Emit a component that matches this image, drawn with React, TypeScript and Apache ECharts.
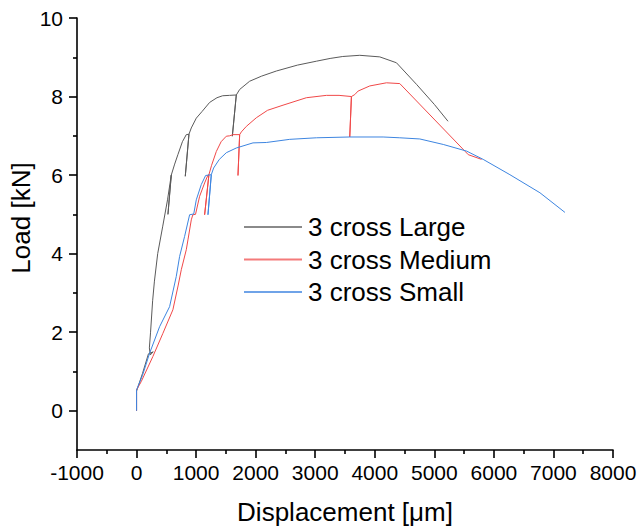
import React, { useEffect, useRef } from "react";
import * as echarts from "echarts";

const seriesNames = ["3 cross Large", "3 cross Medium", "3 cross Small"];
const seriesColors = ["#5a5a5a", "#f04848", "#3d85e0"];
const legendColors = ["#8a8a8a", "#f47a7a", "#6fa3e8"];

const largeX = [0, 0, 100, 200, 280, 230, 215, 235, 270, 300, 355, 440, 520, 583, 527, 583, 640, 694, 770, 835, 880, 818, 880, 919, 1003, 1100, 1227, 1350, 1445, 1560, 1675, 1608, 1675, 1731, 1899, 2100, 2347, 2700, 3020, 3250, 3462, 3748, 4084, 4364, 4701, 5000, 5230];
const largeY = [0, 0.5, 0.95, 1.45, 1.5, 1.42, 1.6, 2.0, 2.8, 3.3, 4.0, 4.7, 5.37, 6.0, 5.0, 6.0, 6.28, 6.52, 6.85, 7.03, 7.04, 5.97, 7.04, 7.2, 7.45, 7.62, 7.85, 7.97, 8.02, 8.03, 8.04, 6.99, 8.04, 8.18, 8.39, 8.52, 8.65, 8.8, 8.9, 8.97, 9.02, 9.05, 9.01, 8.86, 8.31, 7.8, 7.37];

const mediumX = [0, 0, 78, 274, 442, 610, 700, 751, 835, 863, 919, 945, 990, 1059, 1143, 1199, 1215, 1143, 1215, 1260, 1339, 1420, 1507, 1563, 1619, 1731, 1703, 1731, 1760, 1843, 2011, 2200, 2459, 2851, 3188, 3400, 3608, 3580, 3608, 3664, 3720, 3916, 4196, 4420, 5513, 5570, 5793];
const mediumY = [0, 0.53, 0.74, 1.38, 1.97, 2.57, 3.2, 3.59, 4.1, 4.35, 4.86, 4.99, 5.0, 5.46, 5.8, 6.0, 6.01, 4.99, 6.01, 6.25, 6.6, 6.85, 6.99, 7.0, 7.03, 7.03, 5.99, 7.03, 7.1, 7.24, 7.46, 7.65, 7.78, 7.97, 8.03, 8.03, 8.0, 6.97, 8.0, 8.05, 8.14, 8.27, 8.35, 8.33, 6.61, 6.52, 6.4];

const smallX = [0, 0, 100, 218, 387, 555, 667, 723, 807, 891, 960, 1003, 1087, 1160, 1255, 1199, 1255, 1294, 1390, 1507, 1675, 1955, 2179, 2571, 3020, 3580, 4140, 4420, 4756, 5150, 5543, 5820, 6269, 6773, 7193];
const smallY = [0, 0.53, 0.9, 1.46, 2.14, 2.65, 3.42, 3.93, 4.44, 4.99, 5.01, 5.37, 5.76, 5.99, 6.01, 4.99, 6.01, 6.18, 6.4, 6.57, 6.69, 6.82, 6.83, 6.91, 6.95, 6.97, 6.97, 6.95, 6.92, 6.78, 6.61, 6.4, 6.01, 5.55, 5.05];

const yMajorTicks = [0, 2, 4, 6, 8, 10];
const yMinorTicks = [1, 3, 5, 7, 9];

const FONT = "'Liberation Sans', Arial, sans-serif";

function pairs(xs: number[], ys: number[]) {
  return xs.map((x, i) => [x, ys[i]]);
}

export default function App() {
  const ref = useRef<HTMLDivElement>(null);
  useEffect(() => {
    if (!ref.current) return;
    const chart = echarts.init(ref.current, null, { renderer: "svg" });
    const allData = [pairs(largeX, largeY), pairs(mediumX, mediumY), pairs(smallX, smallY)];
    chart.setOption({
      animation: false,
      backgroundColor: "#ffffff",
      grid: { left: 77, right: 27, top: 18, bottom: 82, containLabel: false },
      legend: {
        orient: "vertical",
        left: 244,
        top: 214,
        padding: 0,
        itemWidth: 58,
        itemHeight: 2,
        itemGap: 6.5,
        icon: "rect",
        data: seriesNames.map((name, i) => ({ name, itemStyle: { color: legendColors[i] } })),
        textStyle: { fontSize: 26, fontFamily: FONT, color: "#000", padding: [0, 0, 0, 1] },
      },
      xAxis: {
        type: "value",
        min: -1000,
        max: 8000,
        interval: 1000,
        name: "Displacement [\u03bcm]",
        nameLocation: "middle",
        nameGap: 49,
        nameTextStyle: { fontSize: 26, fontFamily: FONT, color: "#000" },
        axisLine: { show: true, onZero: false, lineStyle: { color: "#000", width: 1.6 } },
        axisTick: { show: true, inside: false, length: 8, lineStyle: { color: "#000", width: 1.6 } },
        minorTick: { show: true, splitNumber: 2, length: 4, lineStyle: { color: "#000", width: 1.6 } },
        axisLabel: {
          fontSize: 21,
          fontFamily: FONT,
          color: "#000",
          margin: 12,
          formatter: (v: number) => String(v),
        },
        splitLine: { show: false },
        minorSplitLine: { show: false },
      },
      yAxis: [
        {
          type: "value",
          min: -1,
          max: 10,
          position: "left",
          axisLine: { show: true, onZero: false, lineStyle: { color: "#000", width: 1.6 } },
          axisTick: { show: true, inside: false, length: 8, customValues: yMajorTicks, lineStyle: { color: "#000", width: 1.6 } },
          axisLabel: { fontSize: 21, fontFamily: FONT, color: "#000", margin: 14, customValues: yMajorTicks, formatter: (v: number) => String(v) },
          splitLine: { show: false },
        },
        {
          type: "value",
          min: -1,
          max: 10,
          position: "left",
          axisLine: { show: false, onZero: false },
          axisTick: { show: true, inside: false, length: 4, customValues: yMinorTicks, lineStyle: { color: "#000", width: 1.6 } },
          axisLabel: { show: false },
          splitLine: { show: false },
        },
      ],
      graphic: [
        {
          type: "text",
          x: 21,
          y: 218,
          rotation: Math.PI / 2,
          style: {
            text: "Load [kN]",
            fontSize: 26,
            fontFamily: FONT,
            fill: "#000",
            textAlign: "center",
            textVerticalAlign: "middle",
          },
        },
      ],
      series: seriesNames.map((name, i) => ({
        name,
        type: "line",
        data: allData[i],
        symbol: "none",
        showSymbol: false,
        xAxisIndex: 0,
        yAxisIndex: 0,
        color: seriesColors[i],
        itemStyle: { color: seriesColors[i] },
        lineStyle: { color: seriesColors[i], width: 1 },
      })),
    });
    return () => chart.dispose();
  }, []);
  return <div ref={ref} style={{ position: "fixed", left: 0, top: 0, width: 640, height: 532 }} />;
}
